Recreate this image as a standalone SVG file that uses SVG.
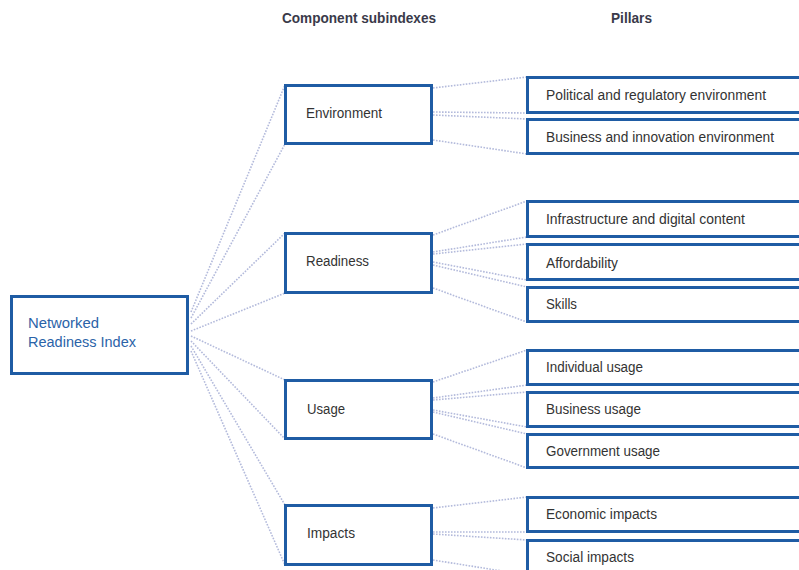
<svg xmlns="http://www.w3.org/2000/svg" width="799" height="570" viewBox="0 0 799 570">
<style>
.box{fill:#fff;stroke:#1f5ca4;stroke-width:3}
.t{font-family:"Liberation Sans",Arial,sans-serif;font-size:14px;fill:#333}
.nri{fill:#2b63a8}
.h{font-weight:bold;fill:#3a3a4a}
.c line{stroke:#b3badb;stroke-width:1.6;stroke-dasharray:1.6 1.4}
</style>
<rect width="799" height="570" fill="#fff"/>
<g class="c" id="connectors">
<line x1="191" y1="312" x2="285" y2="85"/>
<line x1="191" y1="318" x2="285" y2="144"/>
<line x1="191" y1="324" x2="285" y2="233"/>
<line x1="191" y1="331" x2="285" y2="293"/>
<line x1="191" y1="336" x2="285" y2="380"/>
<line x1="191" y1="341" x2="285" y2="439"/>
<line x1="191" y1="346" x2="285" y2="505"/>
<line x1="191" y1="351" x2="285" y2="565"/>
<line x1="433" y1="88" x2="527" y2="77"/>
<line x1="433" y1="112" x2="527" y2="113"/>
<line x1="433" y1="115" x2="527" y2="119"/>
<line x1="433" y1="140" x2="527" y2="154"/>
<line x1="433" y1="235" x2="527" y2="201"/>
<line x1="433" y1="252" x2="527" y2="237"/>
<line x1="433" y1="254" x2="527" y2="244"/>
<line x1="433" y1="262" x2="527" y2="280"/>
<line x1="433" y1="265" x2="527" y2="287"/>
<line x1="433" y1="288" x2="527" y2="322"/>
<line x1="433" y1="382" x2="527" y2="350"/>
<line x1="433" y1="398" x2="527" y2="385"/>
<line x1="433" y1="400" x2="527" y2="392"/>
<line x1="433" y1="410" x2="527" y2="427"/>
<line x1="433" y1="412" x2="527" y2="434"/>
<line x1="433" y1="434" x2="527" y2="468"/>
<line x1="433" y1="508" x2="527" y2="497"/>
<line x1="433" y1="532" x2="527" y2="532"/>
<line x1="433" y1="534" x2="527" y2="540"/>
<line x1="433" y1="560" x2="527" y2="575"/>
</g>
<text class="t h" x="282" y="23" textLength="154" lengthAdjust="spacingAndGlyphs">Component subindexes</text>
<text class="t h" x="611" y="23" textLength="41" lengthAdjust="spacingAndGlyphs">Pillars</text>
<g id="nri"><rect class="box" x="11.5" y="296.5" width="176" height="77"/>
<text class="t nri" x="28" y="328" textLength="71" lengthAdjust="spacingAndGlyphs">Networked</text>
<text class="t nri" x="28" y="347" textLength="108" lengthAdjust="spacingAndGlyphs">Readiness Index</text></g>
<g id="environment"><rect class="box" x="285.5" y="85.5" width="146" height="58"/>
<text class="t" x="306" y="118" textLength="76" lengthAdjust="spacingAndGlyphs">Environment</text></g>
<g id="readiness"><rect class="box" x="285.5" y="233.5" width="146" height="59"/>
<text class="t" x="306" y="266" textLength="63" lengthAdjust="spacingAndGlyphs">Readiness</text></g>
<g id="usage"><rect class="box" x="285.5" y="380.5" width="146" height="58"/>
<text class="t" x="307" y="414" textLength="38" lengthAdjust="spacingAndGlyphs">Usage</text></g>
<g id="impacts"><rect class="box" x="285.5" y="505.5" width="146" height="59"/>
<text class="t" x="307" y="538" textLength="48" lengthAdjust="spacingAndGlyphs">Impacts</text></g>
<g id="p-political"><rect class="box" x="527.5" y="77.5" width="290" height="35"/>
<text class="t" x="546" y="100" textLength="220" lengthAdjust="spacingAndGlyphs">Political and regulatory environment</text></g>
<g id="p-business-innovation"><rect class="box" x="527.5" y="119.5" width="290" height="34"/>
<text class="t" x="546" y="142" textLength="228" lengthAdjust="spacingAndGlyphs">Business and innovation environment</text></g>
<g id="p-infrastructure"><rect class="box" x="527.5" y="201.5" width="290" height="35"/>
<text class="t" x="546" y="224" textLength="199" lengthAdjust="spacingAndGlyphs">Infrastructure and digital content</text></g>
<g id="p-affordability"><rect class="box" x="527.5" y="244.5" width="290" height="35"/>
<text class="t" x="546" y="268" textLength="72" lengthAdjust="spacingAndGlyphs">Affordability</text></g>
<g id="p-skills"><rect class="box" x="527.5" y="287.5" width="290" height="34"/>
<text class="t" x="546" y="309" textLength="31" lengthAdjust="spacingAndGlyphs">Skills</text></g>
<g id="p-individual"><rect class="box" x="527.5" y="350.5" width="290" height="34"/>
<text class="t" x="546" y="372" textLength="97" lengthAdjust="spacingAndGlyphs">Individual usage</text></g>
<g id="p-business-usage"><rect class="box" x="527.5" y="392.5" width="290" height="34"/>
<text class="t" x="546" y="414" textLength="95" lengthAdjust="spacingAndGlyphs">Business usage</text></g>
<g id="p-government"><rect class="box" x="527.5" y="434.5" width="290" height="33"/>
<text class="t" x="546" y="456" textLength="114" lengthAdjust="spacingAndGlyphs">Government usage</text></g>
<g id="p-economic"><rect class="box" x="527.5" y="497.5" width="290" height="34"/>
<text class="t" x="546" y="519" textLength="111" lengthAdjust="spacingAndGlyphs">Economic impacts</text></g>
<g id="p-social"><rect class="box" x="527.5" y="540.5" width="290" height="40"/>
<text class="t" x="546" y="562" textLength="88" lengthAdjust="spacingAndGlyphs">Social impacts</text></g>
</svg>
